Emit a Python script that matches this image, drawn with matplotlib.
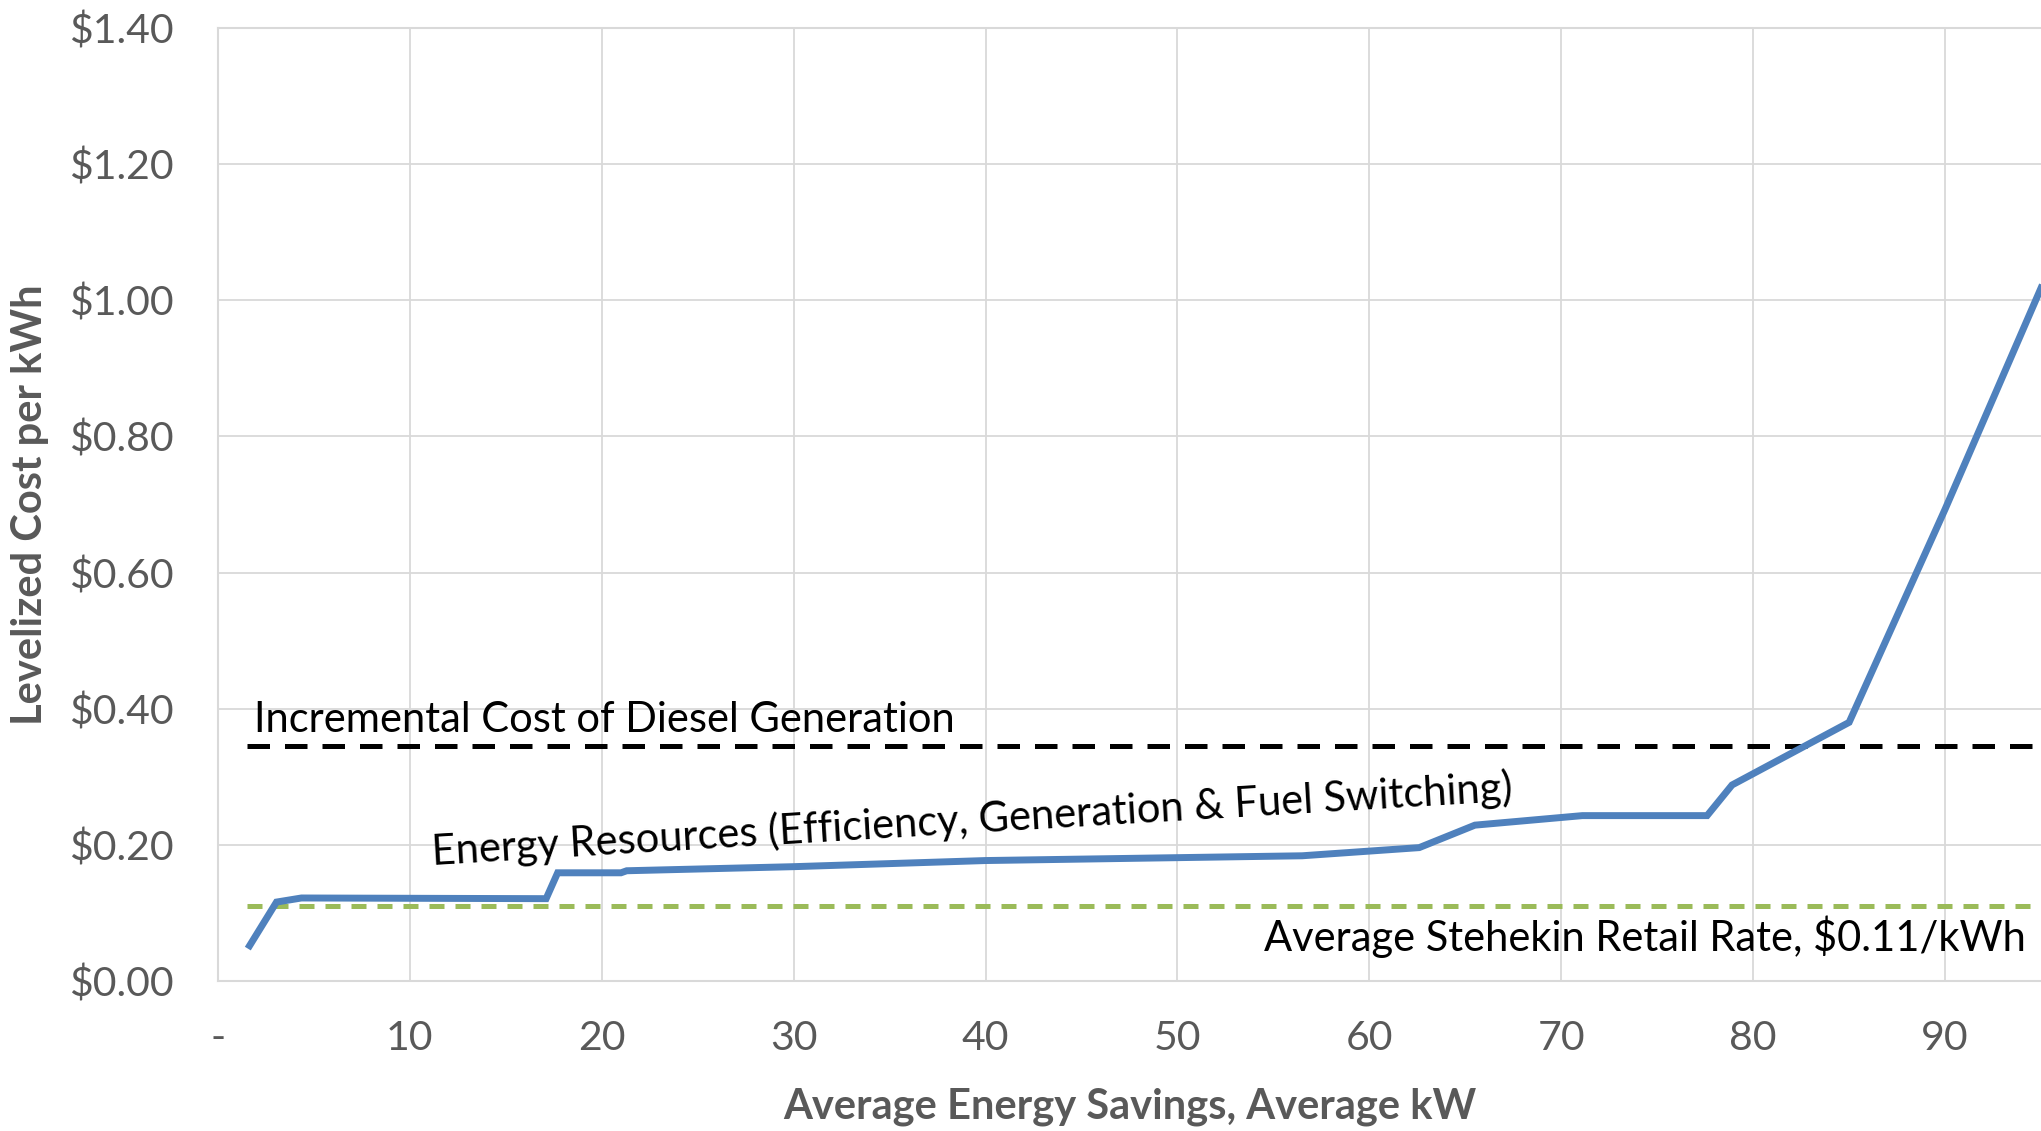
import matplotlib
matplotlib.use("Agg")
import matplotlib.pyplot as plt

# Supply curve: cumulative average savings (kW) vs levelized cost ($/kWh)
savings_kw = [1.65, 3.05, 4.35, 17.1, 17.7, 21.0, 21.3, 30.0, 40.0, 56.5,
              62.6, 65.5, 71.1, 77.6, 78.9, 85.0, 90.0, 95.0]
cost_per_kwh = [0.052, 0.116, 0.122, 0.121, 0.159, 0.159, 0.162, 0.168, 0.177,
                0.184, 0.196, 0.229, 0.243, 0.243, 0.288, 0.380, 0.693, 1.018]

diesel_cost = 0.345
retail_rate = 0.11
ref_start, ref_end = 1.5, 95.0

x_ticks = [0, 10, 20, 30, 40, 50, 60, 70, 80, 90]
x_tick_labels = ["-", "10", "20", "30", "40", "50", "60", "70", "80", "90"]
y_ticks = [0.0, 0.2, 0.4, 0.6, 0.8, 1.0, 1.2, 1.4]
y_tick_labels = ["$0.00", "$0.20", "$0.40", "$0.60", "$0.80", "$1.00", "$1.20", "$1.40"]

plt.rcParams["font.family"] = ["Lato", "DejaVu Sans"]

fig = plt.figure(figsize=(20.41, 11.31), dpi=100)
ax = fig.add_axes([0.1068, 0.1326, 0.8932, 0.8426])

grid_c = "#D9D9D9"
ax.set_xlim(0, 95)
ax.set_ylim(0, 1.4)
ax.set_xticks(x_ticks)
ax.set_xticklabels(x_tick_labels)
ax.set_yticks(y_ticks)
ax.set_yticklabels(y_tick_labels)
ax.tick_params(axis="both", length=0, labelsize=29.5, colors="#595959")
ax.tick_params(axis="x", pad=28)
ax.tick_params(axis="y", pad=32)
ax.grid(True, color=grid_c, linewidth=1.3)
ax.set_axisbelow(True)
ax.spines["right"].set_visible(False)
for side in ("left", "bottom", "top"):
    ax.spines[side].set_color(grid_c)
    ax.spines[side].set_linewidth(1.5)

ax.plot([ref_start, ref_end], [diesel_cost, diesel_cost], color="black",
        linewidth=3.6, dashes=(4.5, 3.0), solid_capstyle="butt")
ax.plot([ref_start, ref_end], [retail_rate, retail_rate], color="#9BBB59",
        linewidth=3.6, dashes=(3.0, 2.2))
ax.plot(savings_kw, cost_per_kwh, color="#4F81BD", linewidth=5.0,
        solid_joinstyle="miter", clip_on=True)

ax.text(1.9, 0.383, "Incremental Cost of Diesel Generation", fontsize=30,
        color="black", va="center", ha="left")
ax.text(94.2, 0.065, "Average Stehekin Retail Rate, $0.11/kWh", fontsize=30,
        color="black", va="center", ha="right")
ax.text(39.3, 0.237, "Energy Resources (Efficiency, Generation & Fuel Switching)",
        fontsize=30, color="black", va="center", ha="center", rotation=3.4,
        rotation_mode="anchor")

ax.set_xlabel("Average Energy Savings, Average kW", fontsize=30, fontweight="bold",
              color="#595959", labelpad=22)
ax.set_ylabel("Levelized Cost per kWh", fontsize=30, fontweight="bold",
              color="#595959", labelpad=14)

fig.savefig("out.png", dpi=100)
